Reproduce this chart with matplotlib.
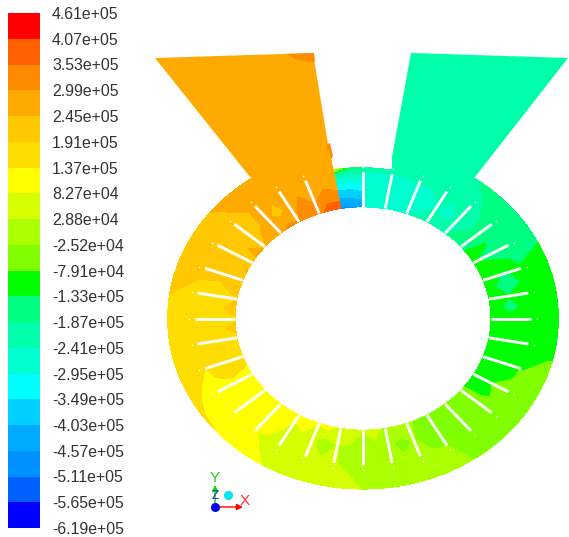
import numpy as np
import matplotlib
matplotlib.use('Agg')
import matplotlib.pyplot as plt
from matplotlib.colors import ListedColormap, BoundaryNorm
from matplotlib.patches import Polygon

plt.rcParams['font.family'] = ['Liberation Sans', 'DejaVu Sans']

W, H = 569, 537

# contour levels, in units of 1e5, low to high
levels = [-6.19, -5.65, -5.11, -4.57, -4.03, -3.49, -2.95, -2.41, -1.87, -1.33, -0.791,
          -0.252, 0.288, 0.827, 1.37, 1.91, 2.45, 2.99, 3.53, 4.07, 4.61]
level_labels = ['-6.19e+05', '-5.65e+05', '-5.11e+05', '-4.57e+05', '-4.03e+05', '-3.49e+05',
                '-2.95e+05', '-2.41e+05', '-1.87e+05', '-1.33e+05', '-7.91e+04', '-2.52e+04',
                '2.88e+04', '8.27e+04', '1.37e+05', '1.91e+05', '2.45e+05', '2.99e+05',
                '3.53e+05', '4.07e+05', '4.61e+05']
band_colors = ['#0000ff', '#0060ff', '#0090ff', '#00aaff', '#00d0ff', '#00ffff', '#00ffd0',
               '#00ffaa', '#00ff80', '#00ff00', '#7fff00', '#aaff00', '#d5ff00', '#ffff00',
               '#ffdd00', '#ffc800', '#ffaa00', '#ff8c00', '#ff6000', '#ff0000']

# stations around the ring, degrees, starting and ending at the tongue wall
# the station before 450 sits right against that blade, the field jumps across it
theta_deg = np.arange(100, 465, 5)
theta_deg[theta_deg == 445] = 449
radii = [128, 148, 168]

p_inner = [3.9, 3.8, 3.3, 3.2, 3.0, 3.2, 2.6, 2.8, 2.4, 2.6, 2.2, 2.5, 2.0, 2.4, 1.9, 2.2, 1.8, 2.1,
           1.7, 1.9, 1.5, 1.35, 1.25, 1.3, 1.1, 1.2, 1.0, 1.2, 0.9, 1.2, 0.85, 1.1, 0.5, 0.7, 0.3, 0.5,
           0.1, 0.3, -0.2, -0.3, -0.4, -0.4, -0.5, -0.6, -0.7, -0.9, -0.9, -0.8, -1.0, -0.85, -1.05,
           -0.9, -1.1, -1.1, -1.2, -1.1, -1.2, -1.1, -1.3, -1.1, -1.6, -1.5, -2.0, -1.9, -2.3, -2.2,
           -2.5, -2.4, -2.6, -2.5, -4.5, -4.6, -4.8]
p_mid = [3.0, 3.1, 2.8, 3.1, 2.7, 2.2, 2.6, 2.4, 2.3, 2.35, 2.25, 2.0, 2.1, 1.8, 1.7, 1.7, 1.6, 1.7,
         1.5, 1.7, 1.4, 1.5, 1.25, 1.3, 1.0, 1.1, 0.8, 1.0, 0.7, 0.7, 0.4, -0.1, 0.3, 0.2, 0.1, 0.15,
         -0.05, -0.5, -0.2, -0.6, -0.35, -0.6, -0.5, -0.6, -0.6, -0.9, -0.8, -1.0, -0.9, -1.0, -1.0,
         -1.2, -1.1, -1.5, -1.3, -1.6, -1.35, -1.2, -1.5, -1.3, -1.7, -2.0, -2.2, -2.9, -2.4, -3.0,
         -2.7, -3.0, -2.7, -2.8, -3.4, -3.6, -3.6]
p_tip = [2.7, 2.7, 2.7, 2.7, 2.7, 2.6, 2.5, 2.42, 2.35, 2.3, 2.25, 2.1, 2.0, 1.9, 1.8, 1.7, 1.65, 1.6,
         1.5, 1.45, 1.37, 1.3, 1.2, 1.1, 1.0, 0.9, 0.85, 0.75, 0.7, 0.6, 0.5, 0.35, 0.3, 0.25, 0.15,
         0.1, 0.0, -0.1, -0.15, -0.2, -0.25, -0.3, -0.4, -0.45, -0.55, -0.6, -0.65, -0.75, -0.8, -0.85,
         -0.9, -1.0, -1.05, -1.15, -1.2, -1.25, -1.3, -1.4, -1.5, -1.6, -1.7, -1.87, -2.0, -2.1, -2.2,
         -2.3, -2.3, -2.4, -2.45, -2.4, -2.2, -2.2, -2.0]
p_outer = [2.7, 2.7, 2.7, 2.7, 2.7, 2.7, 2.7, 2.7, 2.47, 2.4, 2.3, 2.2, 2.1, 2.0, 1.95, 1.85, 1.8, 1.75,
           1.7, 1.65, 1.6, 1.5, 1.45, 1.4, 1.38, 1.3, 1.1, 0.9, 0.8, 0.7, 0.6, 0.5, 0.4, 0.35, 0.28,
           0.2, 0.1, 0.0, -0.05, -0.15, -0.2, -0.26, -0.4, -0.5, -0.55, -0.6, -0.65, -0.7, -0.75, -0.78,
           -0.9, -1.0, -1.05, -1.1, -1.15, -1.2, -1.25, -1.3, -1.4, -1.5, -1.6, -1.7, -1.8, -1.9, -2.1,
           -2.1, -2.1, -2.1, -2.2, -2.1, -1.6, -1.6, 0.6]

# outer radius is cut back over the tongue, 80 to 100 degrees
r_volute = 195.5
r_tongue = 173
tongue_from, tongue_to = 440, 460

# inlet ducts, picture pixels
left_inlet = [(155, 58), (313, 53), (329, 150), (335, 180), (290, 190), (250, 177)]
left_inlet_value = 2.7
left_corner = [(287, 54), (314, 53), (315, 62), (297, 60)]
left_corner_value = 3.1
left_spot = [(327, 144), (330, 143), (333, 156), (331, 160), (327, 152)]
left_spot_value = 3.1
right_inlet = [(411, 53), (568, 58), (475, 177), (430, 190), (392, 190), (392, 157)]
right_inlet_value = -2.1

# blades every 10 degrees, the one at 100 is the wall itself
blade_angles = np.arange(110, 460, 10)
blade_r = (128, 168)

cx, cy = 363, 318.5
squash = 0.873

cmap = ListedColormap(band_colors)
norm = BoundaryNorm(levels, cmap.N)

fig = plt.figure(figsize=(W / 100, H / 100), dpi=100)
ax = fig.add_axes([0, 0, 1, 1])
ax.set_xlim(0, W)
ax.set_ylim(H, 0)
ax.axis('off')


def to_xy(r, deg):
    t = np.radians(deg)
    return cx + r * np.cos(t), cy - squash * r * np.sin(t)


for pts, val in [(left_inlet, left_inlet_value), (right_inlet, right_inlet_value),
                 (left_corner, left_corner_value), (left_spot, left_spot_value)]:
    ax.add_patch(Polygon(pts, closed=True, facecolor=cmap(norm(val)), edgecolor='none', zorder=1))

outer_r = np.where((theta_deg >= tongue_from) & (theta_deg <= tongue_to), r_tongue, r_volute)
rr = np.vstack([np.full(theta_deg.shape, radii[0]), np.full(theta_deg.shape, radii[1]),
                np.full(theta_deg.shape, radii[2]), outer_r])
tt = np.tile(theta_deg, (4, 1))
xx, yy = to_xy(rr, tt)
field = np.array([p_inner, p_mid, p_tip, p_outer])
ax.contourf(xx, yy, field, levels=levels, cmap=cmap, norm=norm, zorder=2, extend='neither')

for a in blade_angles:
    x, y = to_xy(np.array(blade_r), a)
    ax.plot(x, y, color='white', lw=2.1, solid_capstyle='butt', zorder=3)
    dx, dy = to_xy(blade_r[1] + 6, a)
    ax.plot(dx, dy, 'o', color='white', ms=1.2, mew=0, zorder=3)

# axis triad
ox, oy = 215, 507
ax.annotate('', xy=(ox + 28, oy), xytext=(ox, oy), zorder=4,
            arrowprops=dict(arrowstyle='-|>', color='#ff0000', lw=1, mutation_scale=9, shrinkA=0, shrinkB=0))
ax.annotate('', xy=(ox, oy - 22), xytext=(ox, oy), zorder=4,
            arrowprops=dict(arrowstyle='-|>', color='#00dd00', lw=1, mutation_scale=9, shrinkA=0, shrinkB=0))
ax.plot([ox], [oy], 'o', color='#0000ee', ms=6.5, mew=0, zorder=5)
ax.plot([ox + 13], [oy - 12], 'o', color='#00e8f0', ms=6.5, mew=0, zorder=5)
ax.text(ox + 30, oy - 6, 'X', color='#ff3030', fontsize=11, ha='center', va='center', zorder=5)
ax.text(ox, oy - 29, 'Y', color='#20d020', fontsize=11, ha='center', va='center', zorder=5)
ax.text(ox, oy - 11, 'Z', color='#2020e0', fontsize=8.5, ha='center', va='center', zorder=5)

# legend bar
bar = fig.add_axes([8 / W, 1 - 528 / H, 32 / W, 515 / H])
bar.pcolormesh([0, 1], levels, np.array(levels[:-1]).reshape(-1, 1) + 0.01, cmap=cmap, norm=norm)
bar.set_xticks([])
bar.yaxis.tick_right()
bar.set_yticks(levels)
bar.set_yticklabels(level_labels)
bar.tick_params(axis='y', length=0, pad=8.6, labelsize=11.4, labelcolor='#333333')
for s in bar.spines.values():
    s.set_visible(False)

fig.savefig('out.png', dpi=100)
